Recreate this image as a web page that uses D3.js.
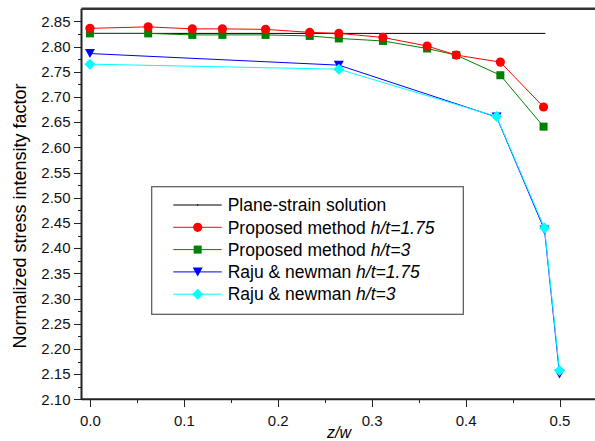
<!DOCTYPE html>
<meta charset="utf-8">
<style>
    body { margin: 0; background: #fff; }
    svg { font-family: "Liberation Sans", Arial, sans-serif; }
    .axis path, .axis line { fill: none; stroke: #222; shape-rendering: crispEdges; }
    .axis text { font-size: 15px; fill: #111; }
</style>
<body>
<script src="https://d3js.org/d3.v7.min.js"></script>
<script>
    const W = 595, H = 441;

    // data
    const zw = [0, 0.062, 0.109, 0.141, 0.187, 0.234, 0.265, 0.312, 0.359, 0.390, 0.437, 0.483];
    const proposed175 = [2.836, 2.839, 2.835, 2.835, 2.834, 2.828, 2.826, 2.818, 2.801, 2.783, 2.769, 2.680];
    const proposed3 = [2.826, 2.826, 2.823, 2.823, 2.823, 2.821, 2.816, 2.811, 2.796, 2.783, 2.743, 2.641];
    const rajuZw = [0, 0.265, 0.433, 0.484, 0.5];
    const raju175 = [2.786, 2.763, 2.660, 2.436, 2.150];
    const raju3 = [2.765, 2.755, 2.661, 2.440, 2.157];
    const planeZw = [0, 0.485];
    const plane = [2.826, 2.826];
    const yTicks = d3.range(2.10, 2.851, 0.05);
    const xTicks = [0, 0.1, 0.2, 0.3, 0.4, 0.5];

    const x = d3.scaleLinear().domain([-0.009, 0.538]).range([81.5, 595.2]);
    const y = d3.scaleLinear().domain([2.10, 2.875]).range([399.3, 8.7]);

    const svg = d3.select('body').append('svg')
        .attr('width', W)
        .attr('height', H);

    // axes
    svg.append('g')
        .attr('class', 'axis')
        .attr('transform', 'translate(81.5,0)')
        .call(d3.axisLeft(y).tickValues(d3.range(2.125, 2.875, 0.05)).tickSize(4).tickFormat(''))
        .select('.domain').remove();
    svg.append('g')
        .attr('class', 'axis')
        .attr('transform', 'translate(81.5,0)')
        .call(d3.axisLeft(y).tickValues(yTicks).tickSize(8).tickPadding(3).tickFormat(d3.format('.2f')))
        .select('.domain').remove();

    svg.append('g')
        .attr('class', 'axis')
        .attr('transform', 'translate(0,399.3)')
        .call(d3.axisBottom(x).tickValues([0.05, 0.15, 0.25, 0.35, 0.45]).tickSize(4).tickFormat(''))
        .select('.domain').remove();
    svg.append('g')
        .attr('class', 'axis')
        .attr('transform', 'translate(0,399.3)')
        .call(d3.axisBottom(x).tickValues(xTicks).tickSize(8).tickPadding(8).tickFormat(d3.format('.1f')))
        .select('.domain').remove();

    // frame
    svg.append('line').attr('x1', 81.5).attr('x2', 81.5).attr('y1', 8.7).attr('y2', 399.3)
        .attr('stroke', '#222').attr('stroke-width', 2);
    svg.append('line').attr('x1', 81.5).attr('x2', W).attr('y1', 399.3).attr('y2', 399.3)
        .attr('stroke', '#222').attr('stroke-width', 2);
    svg.append('line').attr('x1', 81.5).attr('x2', W).attr('y1', 8.7).attr('y2', 8.7)
        .attr('stroke', '#333').attr('stroke-width', 2.5);

    // titles
    svg.append('text')
        .attr('transform', 'translate(26,216) rotate(-90)')
        .attr('text-anchor', 'middle')
        .style('font-size', '18px')
        .text('Normalized stress intensity factor');
    svg.append('text')
        .attr('x', 339).attr('y', 438)
        .attr('text-anchor', 'middle')
        .style('font-size', '16px')
        .style('font-style', 'italic')
        .text('z/w');

    const line = d3.line().x(d => x(d[0])).y(d => y(d[1]));
    const zip = (a, b) => a.map((v, i) => [v, b[i]]);

    const series = [
        {name: 'Plane-strain solution', xs: planeZw, ys: plane, color: '#000', sym: null, italic: '', order: 0},
        {name: 'Proposed method ', xs: zw, ys: proposed3, color: '#008000', sym: 'square', italic: 'h/t=3', order: 2},
        {name: 'Proposed method ', xs: zw, ys: proposed175, color: '#ff0000', sym: 'circle', italic: 'h/t=1.75', order: 1},
        {name: 'Raju & newman ', xs: rajuZw, ys: raju175, color: '#0000ff', sym: 'tri', italic: 'h/t=1.75', order: 3},
        {name: 'Raju & newman ', xs: rajuZw, ys: raju3, color: '#00ffff', sym: 'diamond', italic: 'h/t=3', order: 4}
    ];

    function marker(g, sym, color) {
        if (sym === 'circle') {
            g.append('circle').attr('r', 4.6).attr('fill', color);
        } else if (sym === 'square') {
            g.append('rect').attr('x', -4).attr('y', -4).attr('width', 8).attr('height', 8).attr('fill', color);
        } else if (sym === 'tri') {
            g.append('path').attr('d', 'M-5,-4.5L5,-4.5L0,4.5Z').attr('fill', color);
        } else if (sym === 'diamond') {
            g.append('path').attr('d', 'M0,-5.5L5.5,0L0,5.5L-5.5,0Z').attr('fill', color);
        } else {
            g.append('circle').attr('r', 0.8).attr('fill', color);
        }
    }

    series.forEach(s => {
        const pts = zip(s.xs, s.ys);
        svg.append('path')
            .datum(pts)
            .attr('d', line)
            .attr('fill', 'none')
            .attr('stroke', s.color)
            .attr('stroke-width', 1);
        if (s.sym) {
            pts.forEach(p => {
                marker(svg.append('g').attr('transform', 'translate(' + x(p[0]) + ',' + y(p[1]) + ')'), s.sym, s.color);
            });
        }
    });

    // legend
    const lg = svg.append('g');
    lg.append('rect')
        .attr('x', 151.7).attr('y', 186.7)
        .attr('width', 311.6).attr('height', 127.6)
        .attr('fill', '#fff').attr('stroke', '#555').attr('stroke-width', 1.2);

    const legendOrder = series.slice().sort((a, b) => a.order - b.order);
    legendOrder.forEach((s, i) => {
        const cy = 205 + i * 22.3;
        lg.append('line').attr('x1', 173.3).attr('x2', 221.7).attr('y1', cy).attr('y2', cy)
            .attr('stroke', s.color).attr('stroke-width', 1);
        marker(lg.append('g').attr('transform', 'translate(197.7,' + cy + ')'), s.sym, s.color);
        const t = lg.append('text').attr('x', 227.7).attr('y', cy + 6.2)
            .style('font-size', '17.5px');
        t.append('tspan').text(s.name);
        if (s.italic) t.append('tspan').style('font-style', 'italic').text(s.italic);
    });
</script>
</body>
